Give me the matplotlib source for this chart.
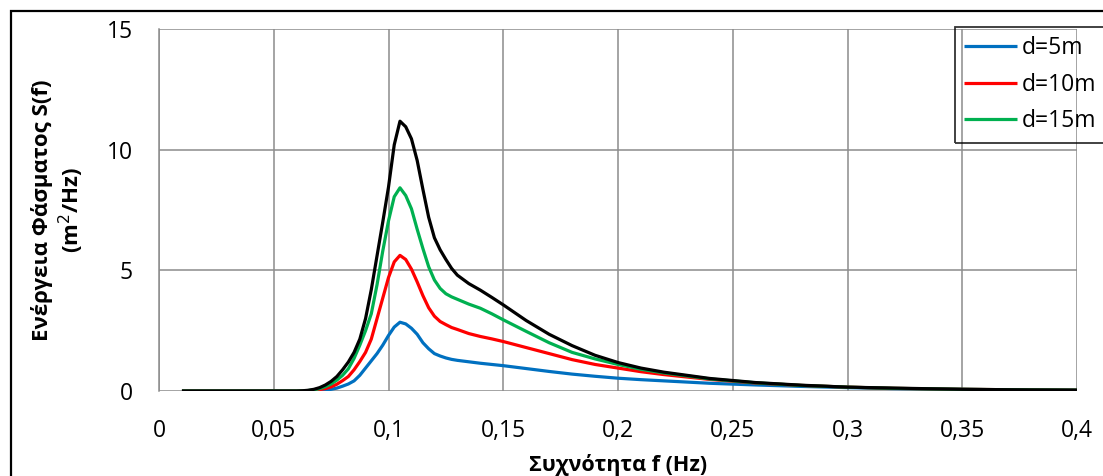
import matplotlib
matplotlib.use("Agg")
import matplotlib.pyplot as plt
from matplotlib.patches import Rectangle

plt.rcParams['font.family'] = ['Open Sans', 'DejaVu Sans']

# Frequency grid (Hz)
freq = [0.01, 0.02, 0.03, 0.04, 0.05, 0.06,
        0.0625, 0.065, 0.0675, 0.07, 0.0725, 0.075, 0.0775, 0.08, 0.0825,
        0.085, 0.0875, 0.09, 0.0925, 0.095, 0.0975, 0.10, 0.1025, 0.105,
        0.1075, 0.11, 0.1125, 0.115, 0.1175, 0.12, 0.1225, 0.125, 0.1275, 0.13,
        0.135, 0.14, 0.145, 0.15,
        0.16, 0.17, 0.18, 0.19, 0.20, 0.21, 0.22,
        0.24, 0.26, 0.28, 0.30, 0.32,
        0.35, 0.38, 0.40]

# Spectral energy S(f) (m^2/Hz) for each water depth
s_d5 = [0, 0, 0, 0, 0, 0,
        0.0, 0.0, 0.01, 0.02, 0.04, 0.07, 0.12, 0.2, 0.29,
        0.42, 0.65, 0.95, 1.25, 1.55, 1.9, 2.3, 2.65, 2.85,
        2.78, 2.6, 2.35, 2.0, 1.75, 1.55, 1.45, 1.37, 1.31, 1.27,
        1.21, 1.15, 1.1, 1.05,
        0.93, 0.81, 0.7, 0.61, 0.53, 0.47, 0.42,
        0.32, 0.25, 0.19, 0.14, 0.10,
        0.065, 0.045, 0.035]
s_d10 = [0, 0, 0, 0, 0, 0,
         0.0, 0.01, 0.03, 0.06, 0.1, 0.17, 0.28, 0.43, 0.6,
         0.88, 1.22, 1.6, 2.15, 3.0, 3.85, 4.7, 5.35, 5.62,
         5.45, 5.05, 4.52, 3.95, 3.45, 3.1, 2.88, 2.75, 2.63, 2.55,
         2.38, 2.26, 2.16, 2.05,
         1.8, 1.55, 1.3, 1.1, 0.95, 0.8, 0.68,
         0.48, 0.33, 0.23, 0.16, 0.11,
         0.07, 0.045, 0.035]
s_d15 = [0, 0, 0, 0, 0, 0,
         0.0, 0.02, 0.05, 0.1, 0.18, 0.29, 0.45, 0.65, 0.92,
         1.35, 1.9, 2.5, 3.2, 4.4, 5.8, 7.05, 8.05, 8.42,
         8.1, 7.55, 6.7, 5.9, 5.15, 4.6, 4.25, 4.03, 3.9, 3.8,
         3.6, 3.43, 3.2, 2.95,
         2.47, 2.0, 1.6, 1.33, 1.1, 0.9, 0.75,
         0.5, 0.34, 0.23, 0.16, 0.11,
         0.07, 0.045, 0.035]
s_d20 = [0, 0, 0, 0, 0, 0,
         0.01, 0.03, 0.07, 0.14, 0.25, 0.4, 0.6, 0.88, 1.2,
         1.6, 2.15, 3.0, 4.2, 5.6, 7.0, 8.45, 10.2, 11.18,
         10.95, 10.45, 9.55, 8.35, 7.2, 6.35, 5.85, 5.45, 5.08, 4.8,
         4.45, 4.18, 3.88, 3.57,
         2.92, 2.35, 1.88, 1.48, 1.18, 0.95, 0.78,
         0.52, 0.35, 0.24, 0.16, 0.12,
         0.07, 0.045, 0.035]

labels = ['d=5m', 'd=10m', 'd=15m', 'd=20m']
colors = ['#0070C0', '#FF0000', '#00B050', '#000000']

x_ticks = [0, 0.05, 0.1, 0.15, 0.2, 0.25, 0.3, 0.35, 0.4]
x_ticklabels = ['0', '0,05', '0,1', '0,15', '0,2', '0,25', '0,3', '0,35', '0,4']
y_ticks = [0, 5, 10, 15]

W, H = 1103, 476
fig = plt.figure(figsize=(W / 100, H / 100), dpi=100)
ax = fig.add_axes([159 / W, 1 - 391 / H, (1077 - 159) / W, (391 - 29) / H])

for s, lab, c in zip([s_d5, s_d10, s_d15, s_d20], labels, colors):
    ax.plot(freq, s, color=c, lw=2.3, label=lab, solid_capstyle='butt',
            solid_joinstyle='round', zorder=3)

ax.set_xlim(0, 0.4)
ax.set_ylim(0, 15)
ax.set_xticks(x_ticks)
ax.set_xticklabels(x_ticklabels)
ax.set_yticks(y_ticks)
ax.grid(True, color='#8c8c8c', lw=1.1, zorder=0)
ax.set_axisbelow(True)
for side in ['top', 'right', 'bottom']:
    ax.spines[side].set_visible(False)
ax.spines['left'].set_color('#8c8c8c')
ax.spines['left'].set_linewidth(1.1)
ax.tick_params(length=0, labelsize=16.5, colors='black')
ax.tick_params(axis='x', pad=20)
ax.tick_params(axis='y', pad=19)

ax.set_xlabel('Συχνότητα f (Hz)', fontsize=15.5, fontweight='bold', labelpad=8)
ax.set_ylabel('Ενέργεια Φάσματος S(f)\n(m$^2$/Hz)', fontsize=16,
              fontweight='bold', labelpad=15, linespacing=1.15)

handles, labs = ax.get_legend_handles_labels()
leg = ax.legend(handles[:3], labs[:3], loc='upper left',
                bbox_to_anchor=(955 / W, 1 - 27 / H),
                bbox_transform=fig.transFigure, frameon=True, fontsize=16.5,
                handlelength=2.3, handletextpad=0.22, borderpad=0.4,
                labelspacing=0.55, fancybox=False, borderaxespad=0)
leg.get_frame().set_facecolor('none')
leg.get_frame().set_edgecolor('black')
leg.get_frame().set_linewidth(1.3)

# Chart frame
fig.patches.append(Rectangle((11 / W, -0.1), 1.2, 1 - 11 / H + 0.1,
                             transform=fig.transFigure, fill=False,
                             edgecolor='black', lw=1.6))

fig.savefig('out.png', dpi=100)
